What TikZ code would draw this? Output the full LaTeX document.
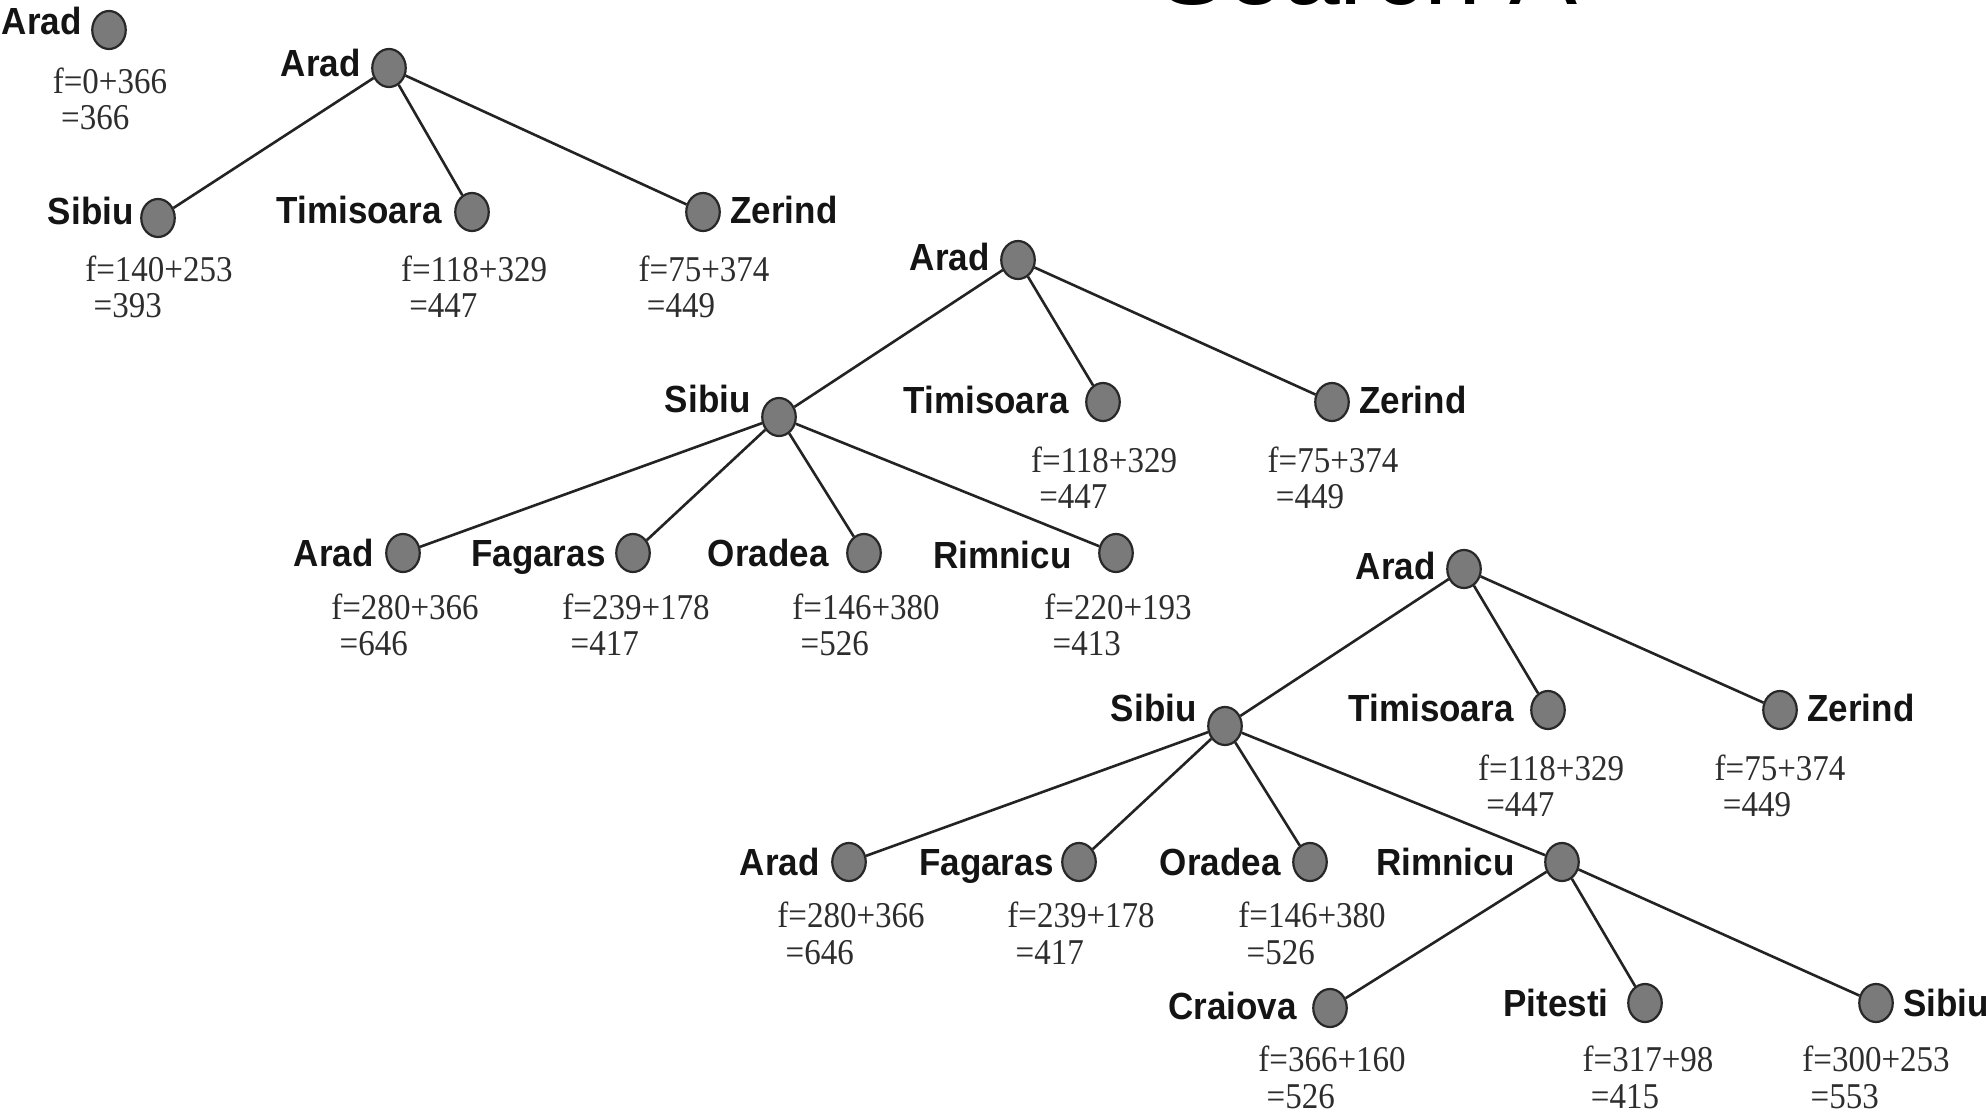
\documentclass[tikz,border=0pt]{standalone}
\usepackage{fontspec}
\setmainfont{Liberation Serif}
\newfontfamily\lblfont{Liberation Sans}
\usepackage{graphicx}
\usetikzlibrary{shapes.geometric}
\definecolor{dotfill}{RGB}{122,122,122}
\definecolor{dotline}{RGB}{40,40,40}
\definecolor{linec}{RGB}{35,35,35}
\definecolor{lblc}{RGB}{20,20,20}
\definecolor{fmlc}{RGB}{45,45,45}
% 1 reference pixel = 0.4pt
\tikzset{
  dot/.style={ellipse, draw=dotline, fill=dotfill, line width=0.88pt, minimum width=13.4pt, minimum height=15.2pt, inner sep=0pt},
  edge/.style={draw=linec, line width=1.04pt},
  lbl/.style={font=\lblfont\bfseries\fontsize{14}{16}\selectfont, text=lblc, inner sep=0pt},
  fml/.style={font=\fontsize{13.2}{13.45}\selectfont, text=fmlc, inner sep=0pt},
  ttl/.style={font=\lblfont\fontsize{40.8}{44}\selectfont, text=black, inner sep=0pt},
}
% name, x, y, label, gap, baseline offset
\newcommand\cityL[6]{%
  \node[dot] (#1) at (#2,#3) {};
  \node[lbl, anchor=base east] (#1l) at (#2-18-#5,#3+#6) {\scalebox{1}[1.08]{#4}};}
\newcommand\cityR[6]{%
  \node[dot] (#1) at (#2,#3) {};
  \node[lbl, anchor=base west] (#1l) at (#2+18+#5,#3+#6) {\scalebox{1}[1.08]{#4}};}
% name, x, baseline y, expression, result
\newcommand\fval[5]{%
  \node[fml, anchor=base] (#1f) at (#2,#3) {\scalebox{1}[1.1]{\begin{tabular}[t]{@{}l@{}}f=#4\\\ =#5\end{tabular}}};}

\begin{document}
\begin{tikzpicture}[x=0.4pt, y=-0.4pt]
\useasboundingbox (0,0) rectangle (1986,1113);
\clip (0,0) rectangle (1986,1113);
\fill[white] (0,0) rectangle (1986,1113);

% title (cut by the top edge)
\node[ttl, anchor=base west] (title) at (1158,4) {Search A*};

% ---- tree 1
\cityL{a0}{109}{30}{Arad}{9}{4}
\fval{a0}{110}{93}{0+366}{366}

% ---- tree 2
\cityL{b0}{389}{68}{Arad}{10}{8}
\cityL{b1}{158}{218}{Sibiu}{6}{6}
\cityL{b2}{472}{212}{Timisoara}{12}{11}
\cityR{b3}{703}{212}{Zerind}{9}{11}
\fval{b1}{159}{281}{140+253}{393}
\fval{b2}{474}{281}{118+329}{447}
\fval{b3}{704}{281}{75+374}{449}
\draw[edge] (b0) -- (b1);
\draw[edge] (b0) -- (b2);
\draw[edge] (b0) -- (b3);

% ---- tree 3
\cityL{c0}{1018}{260}{Arad}{10}{10}
\cityL{c1}{779}{417}{Sibiu}{10}{-5}
\cityL{c2}{1103}{402}{Timisoara}{16}{11}
\cityR{c3}{1332}{402}{Zerind}{9}{11}
\cityL{c4}{403}{553}{Arad}{11}{13}
\cityL{c5}{633}{553}{Fagaras}{9}{13}
\cityL{c6}{864}{553}{Oradea}{17}{13}
\cityL{c7}{1116}{553}{Rimnicu}{26}{15}
\fval{c2}{1104}{472}{118+329}{447}
\fval{c3}{1333}{472}{75+374}{449}
\fval{c4}{405}{619}{280+366}{646}
\fval{c5}{636}{619}{239+178}{417}
\fval{c6}{866}{619}{146+380}{526}
\fval{c7}{1118}{619}{220+193}{413}
\draw[edge] (c0) -- (c1);
\draw[edge] (c0) -- (c2);
\draw[edge] (c0) -- (c3);
\draw[edge] (c1) -- (c4);
\draw[edge] (c1) -- (c5);
\draw[edge] (c1) -- (c6);
\draw[edge] (c1) -- (c7);

% ---- tree 4
\cityL{d0}{1464}{569}{Arad}{10}{10}
\cityL{d1}{1225}{726}{Sibiu}{10}{-5}
\cityL{d2}{1548}{710}{Timisoara}{16}{11}
\cityR{d3}{1780}{710}{Zerind}{9}{11}
\cityL{d4}{849}{862}{Arad}{11}{13}
\cityL{d5}{1079}{862}{Fagaras}{7}{13}
\cityL{d6}{1310}{862}{Oradea}{11}{13}
\cityL{d7}{1562}{862}{Rimnicu}{29}{13}
\cityL{d8}{1330}{1008}{Craiova}{15}{11}
\cityL{d9}{1645}{1003}{Pitesti}{18}{13}
\cityR{d10}{1876}{1003}{Sibiu}{9}{13}
\fval{d2}{1551}{780}{118+329}{447}
\fval{d3}{1780}{780}{75+374}{449}
\fval{d4}{851}{927}{280+366}{646}
\fval{d5}{1081}{927}{239+178}{417}
\fval{d6}{1312}{927}{146+380}{526}
\fval{d8}{1332}{1071}{366+160}{526}
\fval{d9}{1648}{1071}{317+98}{415}
\fval{d10}{1876}{1071}{300+253}{553}
\draw[edge] (d0) -- (d1);
\draw[edge] (d0) -- (d2);
\draw[edge] (d0) -- (d3);
\draw[edge] (d1) -- (d4);
\draw[edge] (d1) -- (d5);
\draw[edge] (d1) -- (d6);
\draw[edge] (d1) -- (d7);
\draw[edge] (d7) -- (d8);
\draw[edge] (d7) -- (d9);
\draw[edge] (d7) -- (d10);
\end{tikzpicture}
\end{document}
